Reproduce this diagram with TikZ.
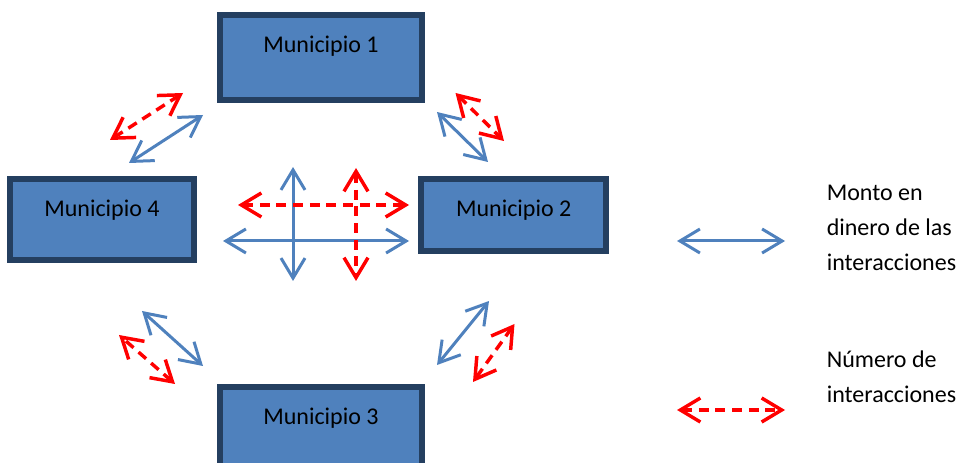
\documentclass[tikz,border=0pt]{standalone}
\usepackage{fontspec}
\setmainfont{Carlito}
\usetikzlibrary{arrows.meta}
\definecolor{munifill}{HTML}{4F81BD}
\definecolor{muniedge}{HTML}{243F60}
\definecolor{flowblue}{HTML}{4F81BD}
\definecolor{flowred}{HTML}{FF0000}

\begin{document}
\begin{tikzpicture}[
  x=0.75pt,
  y=-0.75pt,
  every node/.style={font=\fontsize{18pt}{26.25pt}\selectfont, text=black},
  muni/.style={rectangle, draw=muniedge, fill=munifill, line width=4.5pt,
    inner sep=0pt, text height=28.5pt},
  barbs/.style={{Straight Barb[length=15pt, width=18pt]}-{Straight Barb[length=15pt, width=18pt]}},
  money/.style={flowblue, line width=2.25pt, barbs},
  count/.style={flowred, line width=2.6pt, dash pattern=on 7.5pt off 5pt, barbs},
  legend/.style={anchor=north west, align=left, inner sep=0pt}
]
\path[use as bounding box, clip] (0,0) rectangle (961,463);

% =====================================================================
% the four municipios
% =====================================================================
\node[muni, minimum width=151.5pt, text depth=35.25pt] (m1) at (321,57.5) {Municipio 1};
\node[muni, minimum width=138pt, text depth=32.25pt] (m4) at (102,219.5) {Municipio 4};
\node[muni, minimum width=138.4pt, text depth=25.5pt] (m2) at (513.75,215) {Municipio 2};
\node[muni, minimum width=151.5pt, text depth=37.5pt] (m3) at (321,431) {Municipio 3};

% =====================================================================
% ends of the links between each pair
% =====================================================================
% 4 -- 1
\coordinate (b41a) at (129,163);   \coordinate (b41b) at (203,115);
\coordinate (r41a) at (110,140);   \coordinate (r41b) at (183,93);
% 1 -- 2
\coordinate (b12a) at (437,112);   \coordinate (b12b) at (488,162);
\coordinate (r12a) at (455.5,93);  \coordinate (r12b) at (504,141);
% 2 -- 3
\coordinate (b23a) at (489,301);   \coordinate (b23b) at (437,365);
\coordinate (r23a) at (514.5,324); \coordinate (r23b) at (473,382);
% 3 -- 4
\coordinate (b34a) at (203,366);   \coordinate (b34b) at (142,311);
\coordinate (r34a) at (175,384);   \coordinate (r34b) at (119,335);
% 4 -- 2, the cross in the middle
\coordinate (b42a) at (223,241);   \coordinate (b42b) at (409,241);
\coordinate (b42c) at (293,167);   \coordinate (b42d) at (293,281);
\coordinate (r42a) at (238,205);   \coordinate (r42b) at (409,205);
\coordinate (r42c) at (356,168);   \coordinate (r42d) at (356,281);

% =====================================================================
% links: blue for money, dashed red for number
% =====================================================================
\foreach \k in {41,12,23,34} {
  \draw[money] (b\k a) -- (b\k b);
  \draw[count] (r\k a) -- (r\k b);
}
\draw[money] (b42a) -- (b42b);
\draw[money] (b42c) -- (b42d);
\draw[count] (r42a) -- (r42b);
\draw[count] (r42c) -- (r42d);

% =====================================================================
% legend
% =====================================================================
\coordinate (lb1) at (677,241);  \coordinate (lb2) at (785,241);
\coordinate (lr1) at (677,410);  \coordinate (lr2) at (785,410);
\draw[money] (lb1) -- (lb2);
\draw[count] (lr1) -- (lr2);
\node[legend] (kmoney) at (826.5,184.5) {Monto en\\dinero de las\\interacciones};
\node[legend] (kcount) at (826.5,351) {Número de\\interacciones};

\end{tikzpicture}
\end{document}
